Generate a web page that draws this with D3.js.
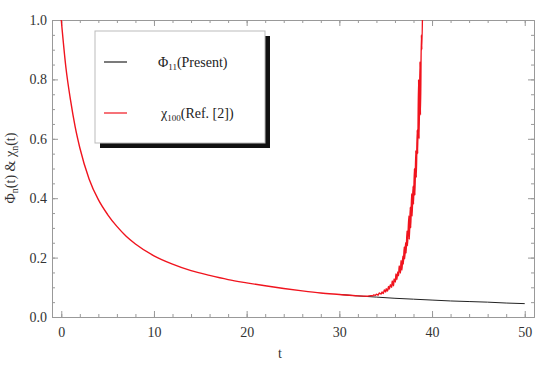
<!DOCTYPE html>
<html>
<head>
<meta charset="utf-8">
<script src="https://cdn.jsdelivr.net/npm/d3@7"></script>
<style>
  body { margin: 0; background: #fff; }
  svg, svg text { font-family: 'Liberation Serif', 'Times New Roman', Times, serif; }
  .axis path, .axis line { stroke: #999; }
</style>
</head>
<body>
<div id="chart"></div>
<script>
// Phi_11 (Present) – lies under chi up to t~33, then keeps decaying
const phiT = [30, 32, 34, 36, 38, 40, 42, 44, 46, 48, 50];
const phiV = [0.076, 0.071, 0.067, 0.063, 0.06, 0.057, 0.054, 0.052, 0.05, 0.047, 0.045];

// chi_100 (Ref. [2]) – decays from 1 then blows up with noise
const chiT = [0, 0.5, 1, 1.5, 2, 3, 4, 5, 6, 7, 8, 10, 12, 14, 16, 18, 20, 22, 24, 26, 28, 30, 32, 33.0, 33.4, 33.6, 33.7, 33.9, 34.0, 34.2, 34.3, 34.5, 34.6, 34.75, 34.85, 35.0, 35.05, 35.2, 35.3, 35.4, 35.5, 35.65, 35.7, 35.85, 35.9, 36.05, 36.1, 36.2, 36.3, 36.4, 36.45, 36.6, 36.65, 36.75, 36.85, 36.9, 37.0, 37.05, 37.15, 37.2, 37.3, 37.35, 37.5, 37.55, 37.65, 37.7, 37.8, 37.85, 37.95, 38.0, 38.1, 38.15, 38.25, 38.3, 38.4, 38.45, 38.55, 38.6, 38.7, 38.75, 38.85, 38.9, 39.0];
const chiV = [1.0, 0.84, 0.73, 0.64, 0.57, 0.465, 0.395, 0.345, 0.305, 0.272, 0.246, 0.206, 0.178, 0.156, 0.14, 0.126, 0.115, 0.105, 0.096, 0.088, 0.081, 0.076, 0.071, 0.07, 0.072, 0.071, 0.074, 0.073, 0.077, 0.074, 0.081, 0.077, 0.084, 0.079, 0.091, 0.084, 0.095, 0.087, 0.103, 0.094, 0.109, 0.1, 0.121, 0.105, 0.128, 0.118, 0.145, 0.126, 0.152, 0.139, 0.172, 0.148, 0.19, 0.158, 0.205, 0.178, 0.236, 0.196, 0.25, 0.215, 0.29, 0.24, 0.34, 0.262, 0.37, 0.3, 0.415, 0.34, 0.44, 0.38, 0.5, 0.41, 0.56, 0.47, 0.63, 0.55, 0.8, 0.6, 0.86, 0.68, 0.95, 0.9, 1.1];

const xTicks = [0, 10, 20, 30, 40, 50];
const yTicks = [0.0, 0.2, 0.4, 0.6, 0.8, 1.0];

const W = 550, H = 367;
const margin = {top: 20, right: 16, bottom: 50, left: 52};
const width = W - margin.left - margin.right;
const height = H - margin.top - margin.bottom;

const svg = d3.select('#chart').append('svg')
    .attr('width', W)
    .attr('height', H);

const g = svg.append('g')
    .attr('transform', `translate(${margin.left},${margin.top})`);

const x = d3.scaleLinear().domain([-1, 51]).range([0, width]);
const y = d3.scaleLinear().domain([0, 1]).range([height, 0]);

const xMinor = d3.range(0, 51, 2);
const yMinor = d3.range(0, 1.001, 0.05);

// minor ticks (all four sides)
g.append('g').attr('class', 'axis')
    .attr('transform', `translate(0,${height})`)
    .call(d3.axisBottom(x).tickValues(xMinor).tickSize(-3).tickSizeOuter(0).tickFormat(''));
g.append('g').attr('class', 'axis')
    .call(d3.axisTop(x).tickValues(xMinor).tickSize(-3).tickSizeOuter(0).tickFormat(''));
g.append('g').attr('class', 'axis')
    .call(d3.axisLeft(y).tickValues(yMinor).tickSize(-3).tickSizeOuter(0).tickFormat(''));
g.append('g').attr('class', 'axis')
    .attr('transform', `translate(${width},0)`)
    .call(d3.axisRight(y).tickValues(yMinor).tickSize(-3).tickSizeOuter(0).tickFormat(''));

// major ticks
g.append('g').attr('class', 'axis')
    .attr('transform', `translate(0,${height})`)
    .call(d3.axisBottom(x).tickValues(xTicks).tickSize(-6).tickSizeOuter(0).tickPadding(10));
g.append('g').attr('class', 'axis')
    .call(d3.axisTop(x).tickValues(xTicks).tickSize(-6).tickSizeOuter(0).tickFormat(''));
g.append('g').attr('class', 'axis')
    .call(d3.axisLeft(y).tickValues(yTicks).tickSize(-6).tickSizeOuter(0).tickPadding(5).tickFormat(d3.format('.1f')));
g.append('g').attr('class', 'axis')
    .attr('transform', `translate(${width},0)`)
    .call(d3.axisRight(y).tickValues(yTicks).tickSize(-6).tickSizeOuter(0).tickFormat(''));

// d3 axes set font-family="sans-serif" on the group; drop it
g.selectAll('.axis').attr('font-family', null).attr('font-size', 14);
g.selectAll('.axis text').attr('fill', '#333');

// clip for lines
g.append('clipPath').attr('id', 'clip')
    .append('rect').attr('width', width).attr('height', height);

const phiData = phiT.map((t, i) => [t, phiV[i]]);
const chiData = chiT.map((t, i) => [t, chiV[i]]);

const line = d3.line()
    .x(d => x(d[0]))
    .y(d => y(d[1]))
    .curve(d3.curveMonotoneX);

g.append('path')
    .datum(phiData)
    .attr('clip-path', 'url(#clip)')
    .attr('fill', 'none')
    .attr('stroke', '#222')
    .attr('stroke-width', 1)
    .attr('d', line);

g.append('path')
    .datum(chiData)
    .attr('clip-path', 'url(#clip)')
    .attr('fill', 'none')
    .attr('stroke', '#f0141e')
    .attr('stroke-width', 1.4)
    .attr('stroke-linejoin', 'round')
    .attr('d', line);

// axis titles
svg.append('text')
    .attr('x', 280)
    .attr('y', 358)
    .attr('text-anchor', 'middle')
    .attr('fill', '#333')
    .attr('font-size', 14)
    .text('t');

const yl = svg.append('text')
    .attr('transform', 'translate(15,168) rotate(-90)')
    .attr('text-anchor', 'middle')
    .attr('fill', '#333')
    .attr('font-size', 14);
yl.append('tspan').text('Φ');
yl.append('tspan').attr('dy', 3).attr('font-size', 10).text('n');
yl.append('tspan').attr('dy', -3).text('(t) & χ');
yl.append('tspan').attr('dy', 3).attr('font-size', 10).text('n');
yl.append('tspan').attr('dy', -3).text('(t)');

// legend
const legend = svg.append('g').attr('class', 'legend');
legend.append('rect')
    .attr('x', 100).attr('y', 36)
    .attr('width', 170).attr('height', 112)
    .attr('fill', '#111');
legend.append('rect')
    .attr('x', 95).attr('y', 31)
    .attr('width', 170).attr('height', 112)
    .attr('fill', '#fff')
    .attr('stroke', '#bbb')
    .attr('stroke-width', 1);

const legendItems = [
    {sym: 'Φ', sub: '11', rest: '(Present)', color: '#222', y: 62, tx: 158},
    {sym: 'χ', sub: '100', rest: '(Ref. [2])', color: '#f0141e', y: 113, tx: 161}
];
legendItems.forEach(item => {
    legend.append('line')
        .attr('x1', 104).attr('x2', 127)
        .attr('y1', item.y).attr('y2', item.y)
        .attr('stroke', item.color)
        .attr('stroke-width', 1.2);
    const t = legend.append('text')
        .attr('x', item.tx)
        .attr('y', item.y + 5)
        .attr('fill', '#222')
        .attr('font-size', 14);
    t.append('tspan').text(item.sym);
    t.append('tspan').attr('dy', 3).attr('font-size', 9).text(item.sub);
    t.append('tspan').attr('dy', -3).text(item.rest);
});
</script>
</body>
</html>
